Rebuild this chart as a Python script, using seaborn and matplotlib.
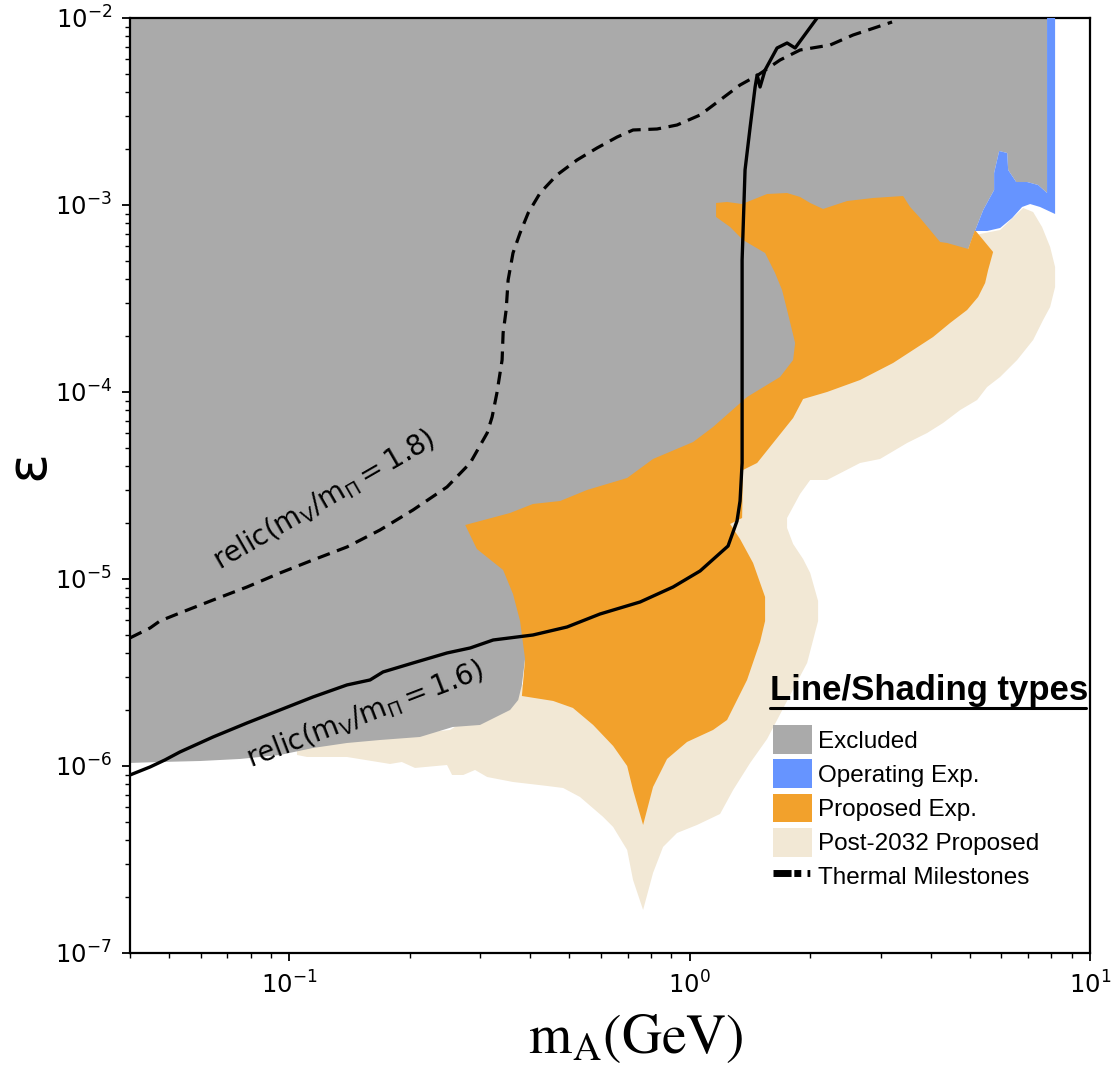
import numpy as np
import matplotlib
matplotlib.use('Agg')
import matplotlib.pyplot as plt
import seaborn as sns
from matplotlib.patches import Patch
from matplotlib.lines import Line2D
from matplotlib.ticker import LogLocator, NullFormatter

# --- thermal relic targets (m_A in GeV, epsilon) ---
relic18_mass = [0.040, 0.0449, 0.0475, 0.0533, 0.0645, 0.0784, 0.0948, 0.1146, 0.1393, 0.1685,
                0.2037, 0.2477, 0.283, 0.312, 0.321, 0.330, 0.340, 0.342, 0.348, 0.352,
                0.362, 0.377, 0.395, 0.423, 0.466, 0.523, 0.587, 0.659, 0.722, 0.829,
                0.930, 1.062, 1.191, 1.336, 1.482, 1.682, 1.887, 2.243, 2.559, 2.939, 3.203]
relic18_eps = [4.84e-6, 5.47e-6, 5.96e-6, 6.58e-6, 7.72e-6, 9.06e-6, 1.077e-5, 1.264e-5, 1.483e-5, 1.828e-5,
               2.339e-5, 3.105e-5, 4.172e-5, 6.035e-5, 7.35e-5, 9.88e-5, 1.483e-4, 2.068e-4, 2.745e-4, 3.972e-4,
               5.537e-4, 7.086e-4, 9.06e-4, 1.159e-3, 1.447e-3, 1.740e-3, 2.018e-3, 2.310e-3, 2.518e-3, 2.549e-3,
               2.678e-3, 3.029e-3, 3.641e-3, 4.382e-3, 4.957e-3, 5.963e-3, 6.743e-3, 7.17e-3, 8.11e-3, 8.95e-3, 9.52e-3]

relic16_mass = [0.040, 0.0449, 0.0489, 0.0533, 0.0645, 0.0784, 0.0948, 0.1146, 0.1393, 0.1591,
                0.1714, 0.2037, 0.2477, 0.283, 0.323, 0.406, 0.494, 0.597, 0.752, 0.909,
                1.062, 1.247, 1.313, 1.336, 1.352, 1.352, 1.352, 1.375, 1.416, 1.457,
                1.474, 1.499, 1.543, 1.653, 1.751, 1.834, 2.081]
relic16_eps = [8.95e-7, 9.88e-7, 1.077e-6, 1.188e-6, 1.429e-6, 1.698e-6, 1.993e-6, 2.339e-6, 2.712e-6, 2.884e-6,
               3.182e-6, 3.555e-6, 4.021e-6, 4.276e-6, 4.717e-6, 5.017e-6, 5.537e-6, 6.497e-6, 7.534e-6, 9.06e-6,
               1.104e-5, 1.501e-5, 2.043e-5, 2.613e-5, 4.172e-5, 6.263e-5, 5.080e-4, 1.539e-3, 2.613e-3, 4.276e-3,
               4.957e-3, 4.276e-3, 5.27e-3, 6.912e-3, 7.35e-3, 6.912e-3, 1.0e-2]

# --- shaded regions (polygon outlines) ---
excl_mass = [0.04, 7.81, 7.81, 7.42, 6.965, 6.54, 6.245, 6.21, 5.93, 5.76, 5.76, 5.41, 5.16, 4.74,
             1.887, 1.50, 1.062, 0.399, 0.388, 0.381, 0.373, 0.356, 0.2995, 0.256, 0.212, 0.1685,
             0.1393, 0.1146, 0.0948, 0.0753, 0.0598, 0.0475, 0.04]
excl_eps = [1e-2, 1e-2, 1.159e-3, 1.279e-3, 1.327e-3, 1.327e-3, 1.539e-3, 1.897e-3, 1.944e-3, 1.483e-3,
            1.203e-3, 9.40e-4, 7.26e-4, 4.49e-4, 1.159e-4, 7.086e-5, 4.33e-5, 1.264e-5, 3.734e-6, 2.712e-6,
            2.254e-6, 1.993e-6, 1.657e-6, 1.616e-6, 1.429e-6, 1.377e-6, 1.327e-6, 1.248e-6, 1.145e-6, 1.090e-6,
            1.063e-6, 1.050e-6, 1.038e-6]

oper_mass = [7.81, 8.18, 8.18, 7.50, 7.087, 6.767, 6.390, 5.963, 5.533, 5.16,
             5.41, 5.76, 5.76, 5.93, 6.21, 6.245, 6.54, 6.965, 7.42, 7.81]
oper_eps = [1e-2, 1e-2, 8.95e-4, 9.76e-4, 1.012e-3, 9.76e-4, 8.52e-4, 7.534e-4, 7.26e-4, 7.26e-4,
            9.40e-4, 1.203e-3, 1.483e-3, 1.944e-3, 1.897e-3, 1.539e-3, 1.327e-3, 1.327e-3, 1.279e-3, 1.159e-3]

prop_mass = [0.275, 0.356, 0.406, 0.475, 0.554, 0.698, 0.810, 1.020, 1.144, 1.391,
             1.682, 1.813, 1.834, 1.751, 1.701, 1.634, 1.543, 1.359, 1.262, 1.164,
             1.164, 1.240, 1.352, 1.474, 1.561, 1.751, 1.887, 2.000, 2.154, 2.473,
             2.872, 3.413, 3.553, 3.764, 4.222, 4.395, 4.962, 5.16, 5.727, 5.565,
             5.470, 5.254, 4.932, 4.472, 4.055, 3.615, 3.222, 2.665, 2.204, 1.920,
             1.813, 1.474, 1.359, 1.352, 1.262, 1.336, 1.440, 1.543, 1.543, 1.499,
             1.391, 1.240, 1.144, 0.985, 0.878, 0.810, 0.765, 0.722, 0.698, 0.644,
             0.574, 0.511, 0.456, 0.381, 0.388, 0.377, 0.362, 0.342, 0.294]
prop_eps = [1.944e-5, 2.254e-5, 2.518e-5, 2.613e-5, 2.991e-5, 3.468e-5, 4.382e-5, 5.40e-5, 6.497e-5, 9.40e-5,
            1.203e-4, 1.483e-4, 1.828e-4, 2.745e-4, 3.512e-4, 4.330e-4, 5.537e-4, 6.497e-4, 7.625e-4, 8.63e-4,
            1.025e-3, 1.038e-3, 1.012e-3, 1.090e-3, 1.145e-3, 1.159e-3, 1.104e-3, 1.025e-3, 9.52e-4, 1.050e-3,
            1.090e-3, 1.117e-3, 9.76e-4, 8.52e-4, 6.34e-4, 6.263e-4, 5.818e-4, 7.35e-4, 5.607e-4, 4.49e-4,
            3.827e-4, 3.221e-4, 2.745e-4, 2.339e-4, 1.968e-4, 1.677e-4, 1.429e-4, 1.159e-4, 1.0e-4, 9.17e-5,
            7.26e-5, 4.172e-5, 3.827e-5, 2.119e-5, 1.968e-5, 1.636e-5, 1.218e-5, 8.01e-6, 5.96e-6, 4.603e-6,
            2.884e-6, 1.762e-6, 1.558e-6, 1.344e-6, 1.090e-6, 7.72e-7, 4.835e-7, 7.44e-7, 1.0e-6, 1.279e-6,
            1.657e-6, 2.043e-6, 2.227e-6, 2.367e-6, 3.734e-6, 5.96e-6, 8.31e-6, 1.117e-5, 1.447e-5]

post_mass = [0.1045, 0.1045, 0.1107, 0.1393, 0.1785, 0.191, 0.206, 0.2477, 0.255, 0.272,
             0.291, 0.312, 0.362, 0.440, 0.483, 0.532, 0.608, 0.644, 0.698, 0.722,
             0.765, 0.810, 0.858, 0.930, 1.043, 1.191, 1.284, 1.416, 1.561, 1.751,
             1.965, 2.093, 2.093, 2.000, 1.920, 1.813, 1.751, 1.751, 1.887, 2.000,
             2.204, 2.665, 2.989, 3.493, 3.919, 4.296, 4.74, 5.224, 5.533, 5.963,
             6.577, 7.21, 7.636, 7.95, 8.18, 8.18, 7.95, 7.59, 7.21, 6.806,
             5.963, 5.16, 3.354, 1.887, 1.375, 1.062, 0.597, 0.399, 0.252]
post_eps = [1.295e-6, 1.145e-6, 1.117e-6, 1.117e-6, 1.025e-6, 1.050e-6, 9.76e-7, 1.012e-6, 8.95e-7, 8.95e-7,
            9.52e-7, 8.73e-7, 8.21e-7, 7.82e-7, 7.625e-7, 6.828e-7, 5.338e-7, 4.717e-7, 3.555e-7, 2.457e-7,
            1.698e-7, 2.678e-7, 3.688e-7, 4.382e-7, 4.835e-7, 5.537e-7, 7.44e-7, 1.038e-6, 1.394e-6, 2.227e-6,
            3.555e-6, 5.96e-6, 7.625e-6, 1.077e-5, 1.279e-5, 1.539e-5, 1.874e-5, 2.119e-5, 2.848e-5, 3.383e-5,
            3.383e-5, 4.172e-5, 4.382e-5, 5.338e-5, 6.035e-5, 6.828e-5, 8.01e-5, 9.06e-5, 1.063e-4, 1.203e-4,
            1.483e-4, 1.897e-4, 2.427e-4, 2.848e-4, 3.641e-4, 4.660e-4, 5.963e-4, 7.625e-4, 9.17e-4, 9.64e-4,
            7.35e-4, 6.912e-4, 3.105e-4, 1.090e-4, 5.537e-5, 2.068e-5, 7.72e-6, 2.884e-6, 1.558e-6]

legend_labels = ['Excluded', 'Operating Exp.', 'Proposed Exp.', 'Post-2032 Proposed', 'Thermal Milestones']

GRAY = '#aaaaaa'
BLUE = '#6694ff'
ORANGE = '#f2a12c'
BEIGE = '#f2e8d5'

sns.set_style('ticks')
plt.rcParams['font.family'] = ['DejaVu Sans']
plt.rcParams['mathtext.default'] = 'regular'
plt.rcParams.update({'text.color': 'k', 'axes.labelcolor': 'k', 'xtick.color': 'k',
                     'ytick.color': 'k', 'axes.edgecolor': 'k'})

fig = plt.figure(figsize=(11.15, 10.65), dpi=100)
ax = fig.add_axes([0.1166, 0.1052, 0.8610, 0.8779])
ax.set_xscale('log')
ax.set_yscale('log')
ax.set_xlim(0.04, 10)
ax.set_ylim(1e-7, 1e-2)

# shaded regions, back to front
ax.fill(post_mass, post_eps, color=BEIGE, lw=0, zorder=1)
ax.fill(excl_mass, excl_eps, color=GRAY, lw=0, zorder=2)
ax.fill(prop_mass, prop_eps, color=ORANGE, lw=0, zorder=3)
ax.fill(oper_mass, oper_eps, color=BLUE, lw=0, zorder=4)

# thermal milestone lines
sns.lineplot(x=relic16_mass, y=relic16_eps, sort=False, estimator=None,
             color='k', lw=2.4, ax=ax, zorder=5)
sns.lineplot(x=relic18_mass, y=relic18_eps, sort=False, estimator=None,
             color='k', lw=2.3, linestyle=(0, (4, 2.4)), ax=ax, zorder=5)

ax.text(0.122, 2.645e-5, r'relic$(m_V/m_\Pi = 1.8)$', rotation=30,
        rotation_mode='anchor', ha='center', va='center', fontsize=20, zorder=6)
ax.text(0.1546, 1.874e-6, r'relic$(m_V/m_\Pi = 1.6)$', rotation=21,
        rotation_mode='anchor', ha='center', va='center', fontsize=20, zorder=6)

# axes styling
for sp in ax.spines.values():
    sp.set_linewidth(1.6)
ax.xaxis.set_minor_locator(LogLocator(base=10, subs=np.arange(2, 10), numticks=100))
ax.yaxis.set_minor_locator(LogLocator(base=10, subs=np.arange(2, 10), numticks=100))
ax.xaxis.set_minor_formatter(NullFormatter())
ax.yaxis.set_minor_formatter(NullFormatter())
ax.tick_params(which='major', length=6, width=1.3, labelsize=17.5, pad=7, direction='out')
ax.tick_params(which='minor', length=3.5, width=1.0, direction='out')

ax.set_xlabel(r'$\mathrm{m_A(GeV)}$', fontsize=40, math_fontfamily='stix')
ax.xaxis.set_label_coords(0.527, -0.062)
ax.set_ylabel(r'$\varepsilon$', fontsize=40, math_fontfamily='stix')
ax.yaxis.set_label_coords(-0.074, 0.517)

# legend: title drawn as text so it can be underlined
title = ax.text(0.667, 0.2706, 'Line/Shading types', transform=ax.transAxes,
                ha='left', va='baseline', fontsize=25, fontweight='bold',
                fontfamily='Liberation Sans', zorder=10)
handles = [Patch(facecolor=GRAY, edgecolor='none'),
           Patch(facecolor=BLUE, edgecolor='none'),
           Patch(facecolor=ORANGE, edgecolor='none'),
           Patch(facecolor=BEIGE, edgecolor='none'),
           Line2D([0], [0], color='k', lw=5, linestyle=(0, (2.6, 0.4, 1.0, 0.9, 0.4, 2)))]
leg = ax.legend(handles, legend_labels, loc='upper left',
                bbox_to_anchor=(0.670, 0.2437), frameon=False, borderpad=0, borderaxespad=0,
                prop={'family': 'Liberation Sans', 'size': 17.5},
                handlelength=1.6, handleheight=1.45, handletextpad=0.25, labelspacing=0.22)
leg.set_zorder(10)

fig.canvas.draw()
bb = title.get_window_extent()
inv = fig.transFigure.inverted()
(x0, y0), (x1, _) = inv.transform([(bb.x0, bb.y0 - 1), (bb.x1 - 3, bb.y0 - 1)])
fig.add_artist(Line2D([x0, x1], [y0, y0], color='k', lw=2.2, transform=fig.transFigure))

fig.savefig('out.png', dpi=100)
